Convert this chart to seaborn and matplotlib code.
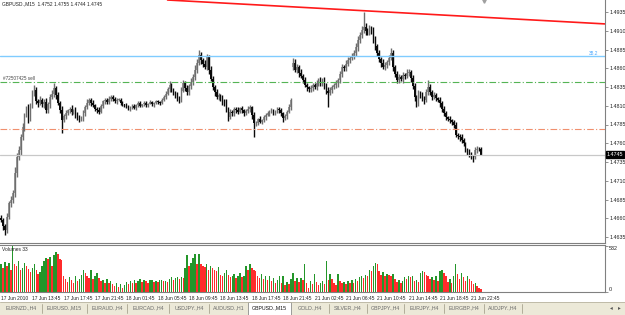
import matplotlib
matplotlib.use('Agg')
import matplotlib.pyplot as plt
from matplotlib.patches import Rectangle
import numpy as np
import pandas as pd
import seaborn as sns

symbol = 'GBPUSD.,M15'
last_ohlc = ['1.4752', '1.4755', '1.4744', '1.4745']

# closes in pips above 1.4600, one per M15 bar
close_pips = [
    58, 50, 44, 62, 80, 84, 94, 120, 142, 151,
    168, 182, 198, 204, 194, 210, 228, 231, 216, 214,
    218, 212, 215, 204, 212, 222, 226, 234, 224, 214,
    205, 191, 196, 200, 204, 206, 202, 204, 199, 195,
    192, 194, 200, 208, 214, 218, 214, 211, 206, 204,
    202, 210, 216, 218, 215, 219, 222, 219, 216, 218,
    218, 214, 212, 211, 209, 206, 208, 210, 207, 211,
    214, 210, 212, 214, 211, 213, 215, 212, 214, 216,
    215, 214, 218, 222, 226, 232, 238, 232, 227, 224,
    220, 218, 230, 240, 234, 228, 236, 242, 248, 258,
    267, 278, 271, 266, 262, 275, 258, 246, 235, 228,
    222, 224, 220, 216, 214, 205, 195, 202, 200, 206,
    204, 202, 207, 204, 200, 203, 206, 208, 198, 187,
    187, 192, 189, 191, 195, 198, 200, 202, 204, 201,
    202, 206, 204, 200, 194, 196, 202, 208, 218, 267,
    258, 262, 254, 250, 244, 238, 235, 232, 234, 238,
    235, 240, 244, 240, 244, 238, 230, 227, 231, 235,
    238, 240, 244, 252, 262, 260, 266, 271, 274, 276,
    280, 288, 298, 304, 311, 315, 310, 308, 312, 311,
    298, 290, 280, 272, 267, 262, 264, 268, 274, 280,
    262, 252, 244, 248, 246, 251, 250, 254, 255, 247,
    236, 222, 214, 227, 224, 220, 218, 228, 235, 228,
    222, 224, 220, 218, 214, 206, 200, 195, 193, 191,
    188, 184, 171, 170, 168, 164, 160, 151, 148, 145,
    143, 142, 151, 153, 152, 145,
]
upper_wick = [
    4, 3, 2, 5, 3, 6, 4, 8, 5, 6,
    4, 5, 3, 6, 8, 4, 3, 7, 4, 3,
    5, 2, 4, 6, 3, 4, 5, 6, 3, 4,
    2, 5, 3, 4, 2, 3, 5, 2, 4, 3,
    3, 2, 4, 3, 5, 2, 3, 4, 2, 3,
    4, 3, 2, 3, 2, 4, 3, 2, 3, 2,
    2, 3, 2, 1, 3, 2, 2, 3, 2, 1,
    2, 3, 1, 2, 2, 1, 3, 2, 1, 2,
    2, 1, 3, 2, 4, 3, 5, 3, 2, 3,
    4, 3, 5, 4, 3, 4, 3, 5, 4, 6,
    5, 6, 4, 3, 5, 4, 3, 5, 4, 3,
    4, 3, 2, 4, 3, 5, 3, 4, 3, 2,
    3, 4, 2, 3, 2, 3, 4, 3, 2, 4,
    3, 2, 4, 2, 3, 2, 3, 2, 3, 2,
    2, 3, 2, 3, 2, 3, 2, 4, 3, 7,
    5, 4, 3, 5, 3, 4, 3, 2, 4, 3,
    3, 4, 3, 5, 3, 4, 3, 5, 4, 3,
    3, 4, 3, 5, 4, 3, 5, 4, 3, 5,
    4, 6, 5, 4, 6, 20, 5, 4, 6, 5,
    4, 5, 3, 4, 3, 5, 4, 3, 4, 7,
    4, 3, 5, 4, 3, 4, 3, 5, 4, 3,
    4, 5, 3, 4, 3, 5, 3, 4, 9, 4,
    3, 4, 3, 2, 4, 3, 4, 3, 2, 3,
    2, 3, 4, 3, 2, 4, 3, 2, 3, 4,
    3, 2, 4, 3, 2, 3,
]
lower_wick = [
    3, 5, 6, 4, 3, 5, 4, 6, 5, 4,
    6, 4, 5, 3, 7, 4, 3, 5, 4, 6,
    3, 4, 5, 3, 4, 5, 3, 4, 5, 3,
    4, 17, 3, 4, 2, 3, 4, 3, 5, 4,
    3, 2, 4, 3, 2, 3, 4, 2, 3, 4,
    3, 2, 3, 4, 2, 3, 2, 3, 2, 3,
    2, 3, 2, 3, 2, 2, 3, 2, 1, 2,
    3, 2, 1, 2, 3, 2, 1, 2, 3, 2,
    2, 3, 2, 1, 3, 2, 4, 3, 2, 3,
    3, 4, 3, 2, 4, 3, 4, 3, 4, 3,
    4, 3, 5, 4, 3, 4, 5, 3, 4, 5,
    3, 4, 3, 5, 4, 3, 5, 3, 4, 3,
    4, 3, 2, 4, 3, 2, 3, 4, 5, 19,
    4, 3, 2, 3, 2, 4, 2, 3, 2, 3,
    3, 2, 4, 3, 5, 3, 4, 2, 3, 4,
    3, 4, 5, 3, 4, 3, 5, 4, 3, 4,
    3, 4, 3, 4, 3, 5, 4, 19, 3, 4,
    3, 4, 5, 3, 4, 3, 4, 3, 4, 3,
    4, 3, 5, 4, 3, 4, 5, 3, 4, 5,
    4, 5, 3, 4, 5, 3, 4, 3, 4, 3,
    5, 4, 3, 4, 3, 5, 4, 3, 4, 5,
    4, 5, 6, 4, 3, 4, 5, 3, 4, 3,
    4, 3, 4, 3, 5, 4, 3, 4, 3, 4,
    3, 4, 3, 4, 5, 3, 4, 3, 4, 3,
    4, 7, 3, 4, 2, 1,
]
first_open = 60
weekend_open = {149: 262}   # monday gap open

volume = [
    320, 280, 350, 300, 340, 260, 532, 330, 300, 360,
    250, 280, 340, 300, 270, 230, 280, 320, 250, 210,
    230, 300, 360, 400, 380, 410, 300, 430, 460, 440,
    380, 370, 190, 150, 120, 170, 140, 110, 180, 130,
    150, 200, 260, 220, 180, 160, 250, 150, 190, 220,
    160, 130, 140, 110, 150, 100, 130, 90, 70, 110,
    60, 90, 50, 80, 120, 90, 130, 110, 140, 100,
    130, 150, 120, 140, 125, 110, 135, 140, 120, 130,
    115, 135, 140, 125, 130, 120, 150, 170, 140, 160,
    170, 150, 175, 160, 280, 430, 300, 340, 400, 440,
    330, 445, 320, 300, 290, 330, 260, 300, 280, 250,
    240, 290, 200, 180, 220, 260, 200, 170, 180, 210,
    160, 190, 220, 170, 180, 300, 260, 330, 280, 250,
    240, 190, 160, 210, 150, 180, 140, 190, 130, 160,
    110, 140, 180, 100, 190, 80, 120, 90, 150, 220,
    130, 160, 120, 160, 140, 330, 110, 50, 130, 90,
    210, 120, 80, 110, 130, 90, 360, 140, 210, 150,
    110, 80, 210, 130, 100, 120, 90, 130, 110, 140,
    100, 150, 130, 170, 180, 160, 200, 190, 250, 240,
    300, 340, 330, 240, 200, 230, 180, 210, 200, 190,
    210, 150, 120, 140, 100, 130, 170, 150, 180, 170,
    180, 130, 140, 120, 220, 240, 230, 200, 190, 150,
    170, 140, 180, 130, 240, 260, 220, 180, 120, 150,
    100, 180, 330, 210, 150, 220, 170, 130, 180, 150,
    130, 90, 110, 70, 50, 33,
]

price_ticks = [1.4935, 1.4910, 1.4885, 1.4860, 1.4835, 1.4810, 1.4785,
               1.4760, 1.4735, 1.4710, 1.4685, 1.4660, 1.4635]
time_labels = ['17 Jun 2010', '17 Jun 13:45', '17 Jun 17:45', '17 Jun 21:45',
               '18 Jun 01:45', '18 Jun 05:45', '18 Jun 09:45', '18 Jun 13:45',
               '18 Jun 17:45', '18 Jun 21:45', '21 Jun 02:45', '21 Jun 06:45',
               '21 Jun 10:45', '21 Jun 14:45', '21 Jun 18:45', '21 Jun 22:45']
time_label_step = 16

trend_line_bars = [85, 309]
trend_line_prices = [1.4951, 1.4919]
fibo_level = 1.4876
fibo_label = '38.2'
sell_level = 1.4842
order_label = '#72507425 sell'
stop_level = 1.4779
bid = 1.4745

tabs = ['EURNZD.,H4', 'EURUSD.,M15', 'EURAUD.,H4', 'EURCAD.,H4', 'USDJPY.,H4',
        'AUDUSD.,H1', 'GBPUSD.,M15', 'GOLD.,H4', 'SILVER.,H4', 'GBPJPY.,H4',
        'EURJPY.,H4', 'EURGBP.,H4', 'AUDJPY.,H4']
tab_edges = [0, 42, 87, 127, 169, 209, 248, 291, 329, 367, 404, 444, 484, 522]
active_tab = 'GBPUSD.,M15'

# ---- build ohlc
n = len(close_pips)
bars = np.arange(n)
close = 1.46 + np.array(close_pips) / 10000
open_ = np.concatenate([[1.46 + first_open / 10000], close[:-1]])
for i, o in weekend_open.items():
    open_[i] = 1.46 + o / 10000
high = np.maximum(open_, close) + np.array(upper_wick) / 10000
low = np.minimum(open_, close) - np.array(lower_wick) / 10000
bull = close >= open_

sns.set_style('white')
plt.rcParams['font.family'] = ['Liberation Sans', 'DejaVu Sans']

W, H = 625, 315
fig = plt.figure(figsize=(W / 100, H / 100), dpi=100)
ax = fig.add_axes([0, 1 - 243 / H, 605 / W, 243 / H])
ax_v = fig.add_axes([0, 1 - 292 / H, 605 / W, 47 / H], sharex=ax)

axis_col = '#808080'
tick_fs = 3.9
small_fs = 3.5

# candles
wick_cols = np.where(bull, '#6e6e6e', '#0a0a0a')
ax.vlines(bars, low, high, colors=wick_cols, lw=1.0)
body_h = np.maximum(np.abs(close - open_), 0.00004)
ax.bar(bars, body_h, bottom=np.minimum(open_, close), width=0.8,
       color=np.where(bull, '#9c9c9c', '#0a0a0a'), linewidth=0)

# lines
ax.plot(trend_line_bars, trend_line_prices, color='#ff1a1a', lw=1.2)
ax.axhline(fibo_level, color='#80ccff', lw=1)
ax.axhline(sell_level, color='#55b455', lw=0.8, ls=(0, (6, 2, 1, 2)))
ax.axhline(stop_level, color='#f0906e', lw=0.8, ls=(0, (6, 2, 1, 2)))
ax.axhline(bid, color='#c8c8c8', lw=0.9)
ax.text(1, sell_level + 0.00008, order_label, fontsize=3.3, color='#444444', va='bottom')
ax.text(305, fibo_level + 0.00006, fibo_label, fontsize=3.5, color='#4aa8ff', va='bottom', ha='right')
ax.plot([246.5], [1.4950], marker='v', ms=2.5, color='#a0a0a0', clip_on=False)

ax.set_xlim(-0.5, 308.2)
ax.set_ylim(1.4627, 1.4951)
ax.set_yticks(price_ticks)
ax.set_yticklabels(['%.4f' % p for p in price_ticks])
ax.yaxis.tick_right()
ax.tick_params(axis='y', direction='out', length=2, width=0.6, color=axis_col,
               labelsize=tick_fs, pad=1, labelcolor='#222222')
ax.tick_params(axis='x', length=0, labelbottom=False)
for s in ['left', 'top']:
    ax.spines[s].set_visible(False)
for s in ['right', 'bottom']:
    ax.spines[s].set_color(axis_col)
    ax.spines[s].set_linewidth(0.8)
ax.text(1.003, bid, '%.4f' % bid, transform=ax.get_yaxis_transform(), fontsize=tick_fs,
        color='white', va='center', ha='left',
        bbox=dict(boxstyle='square,pad=0.1', fc='black', ec='black'))
ax.text(0.004, 0.993, symbol + '  ' + ' '.join(last_ohlc), transform=ax.transAxes,
        fontsize=small_fs, va='top', ha='left', color='#222222')

# volumes
vol_dir = ['up'] + ['up' if volume[i] > volume[i - 1] else 'down' for i in range(1, n)]
vol_df = pd.DataFrame({'bar': bars, 'volume': volume, 'dir': vol_dir})
sns.barplot(data=vol_df, x='bar', y='volume', hue='dir',
            palette={'up': '#24962a', 'down': '#ff2b2b'}, dodge=False,
            native_scale=True, width=0.75, saturation=1, legend=False,
            errorbar=None, linewidth=0, ax=ax_v)
ax_v.set_xlim(-0.5, 308.2)
ax_v.set_ylim(0, 545)
ax_v.set_ylabel('')
ax_v.set_xlabel('')
ax_v.set_yticks([0, 532])
ax_v.set_yticklabels(['0', '532'])
ax_v.yaxis.tick_right()
ax_v.tick_params(axis='y', direction='out', length=2, width=0.6, color=axis_col,
                 labelsize=tick_fs, pad=1, labelcolor='#222222')
yl = ax_v.get_yticklabels()
yl[0].set_va('bottom')
yl[1].set_va('top')
ax_v.set_xticks(bars[::time_label_step])
ax_v.set_xticklabels(time_labels)
ax_v.tick_params(axis='x', direction='out', length=2, width=0.6, color=axis_col,
                 labelsize=small_fs, pad=1, labelcolor='#222222')
for lab in ax_v.get_xticklabels():
    lab.set_ha('left')
ax_v.spines['left'].set_visible(False)
for s in ['right', 'bottom', 'top']:
    ax_v.spines[s].set_color(axis_col)
    ax_v.spines[s].set_linewidth(0.8)
ax_v.text(0.004, 0.96, 'Volumes %d' % volume[-1], transform=ax_v.transAxes,
          fontsize=small_fs, va='top', ha='left', color='#222222')

# tab bar
def fx(x):
    return x / W

def fy(y):
    return 1 - y / H

fig.patches.append(Rectangle((0, 0), 1, fy(302), transform=fig.transFigure,
                             fc='#ece9d8', ec='none'))
fig.add_artist(plt.Line2D([0, 1], [fy(302), fy(302)], color='#b8b4a0', lw=0.6))
ai = tabs.index(active_tab)
fig.patches.append(Rectangle((fx(tab_edges[ai]), 0), fx(tab_edges[ai + 1] - tab_edges[ai]),
                             fy(302), transform=fig.transFigure, fc='white',
                             ec='#8c8c8c', lw=0.6))
for i, t in enumerate(tabs):
    cx = (tab_edges[i] + tab_edges[i + 1]) / 2
    fig.text(fx(cx), fy(308), t, fontsize=3.8, ha='center', va='center',
             color='#111111' if t == active_tab else '#6a6a6a')
    if i > 0 and i != ai and i != ai + 1:
        fig.add_artist(plt.Line2D([fx(tab_edges[i])] * 2, [fy(304), fy(313)],
                                  color='#a8a490', lw=0.6))
fig.add_artist(plt.Line2D([fx(tab_edges[-1])] * 2, [fy(304), fy(313)], color='#a8a490', lw=0.6))
fig.text(fx(611), fy(308), '\u25c2', fontsize=4, ha='center', va='center', color='#555555')
fig.text(fx(619), fy(308), '\u25b8', fontsize=4, ha='center', va='center', color='#555555')

fig.savefig('out.png', dpi=100)
